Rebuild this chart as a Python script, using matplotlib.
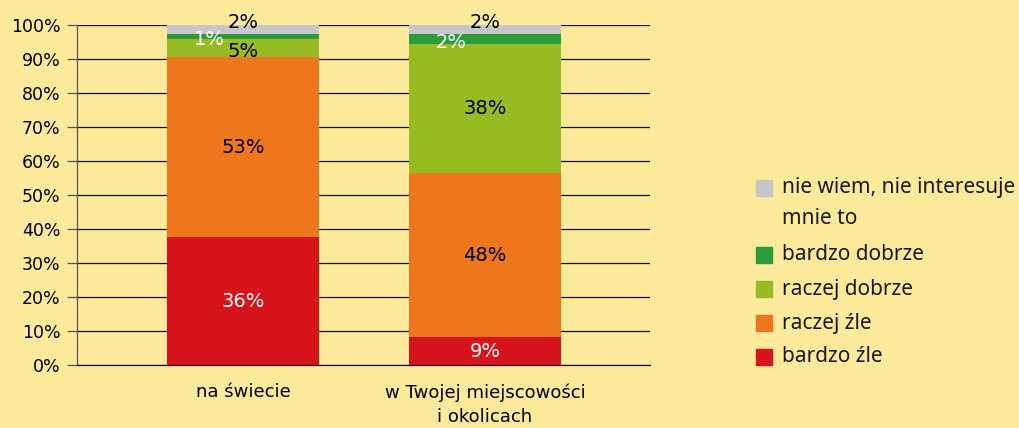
import matplotlib.pyplot as plt
import numpy as np
from matplotlib.patches import Rectangle

# dane
categories = ['na świecie', 'w Twojej miejscowości\ni okolicach']
series_names = ['bardzo źle', 'raczej źle', 'raczej dobrze', 'bardzo dobrze', 'nie wiem, nie interesuje\nmnie to']
values = {
    'bardzo źle': [37.6, 8.2],
    'raczej źle': [53.0, 48.3],
    'raczej dobrze': [5.3, 37.9],
    'bardzo dobrze': [1.5, 3.0],
    'nie wiem, nie interesuje\nmnie to': [2.6, 2.6],
}
labels = {
    'bardzo źle': ['36%', '9%'],
    'raczej źle': ['53%', '48%'],
    'raczej dobrze': ['5%', '38%'],
    'bardzo dobrze': ['1%', '2%'],
    'nie wiem, nie interesuje\nmnie to': ['2%', '2%'],
}
colors = ['#D7141C', '#EE761D', '#97BB22', '#2A9C3B', '#C6C6C6']
label_colors = ['white', 'black', 'black', 'white', 'black']

bg = '#FFE99A'
plt.rcParams['font.family'] = ['DejaVu Sans']

fig = plt.figure(figsize=(10.19, 4.28), dpi=100, facecolor=bg)
ax = fig.add_axes([77 / 1019, 1 - 365 / 428, 573 / 1019, 340 / 428])
ax.set_facecolor(bg)

x = np.arange(len(categories))
width = 0.628
bottom = np.zeros(len(categories))
for name, col, lcol in zip(series_names, colors, label_colors):
    v = np.array(values[name])
    ax.bar(x, v, width, bottom=bottom, color=col, zorder=2)
    for i in range(len(x)):
        cy = bottom[i] + v[i] / 2
        cx = x[i]
        if name == 'bardzo dobrze':
            cx = x[i] - 0.14
            cy = bottom[i] + v[i] / 2 - 1.0
        elif name.startswith('nie wiem'):
            cy = bottom[i] + v[i] / 2 + 2.0
        elif name == 'raczej dobrze' and i == 0:
            cy = bottom[i] + v[i] / 2 - 1.0
        ax.text(cx, cy, labels[name][i], ha='center', va='center',
                color=lcol, fontsize=14, zorder=3)
    bottom += v

ax.set_xlim(-0.686, 1.682)
ax.set_ylim(0, 100)
ax.set_yticks(np.arange(0, 101, 10))
ax.set_yticklabels([f'{t}%' for t in range(0, 101, 10)], fontsize=12.5)
ax.yaxis.grid(True, color='#111111', linewidth=0.9, zorder=0)
ax.set_axisbelow(True)
ax.set_xticks(x)
ax.set_xticklabels(categories, fontsize=13, linespacing=1.45)
ax.tick_params(axis='x', length=0, pad=13)
ax.tick_params(axis='y', length=7, width=0.9, color='#555555', pad=5)
for s in ['top', 'right']:
    ax.spines[s].set_visible(False)
ax.spines['bottom'].set_color('#111111')
ax.spines['bottom'].set_linewidth(0.9)
ax.spines['left'].set_color('#555555')
ax.spines['left'].set_linewidth(0.9)

# legenda
leg_items = list(zip(series_names, colors))[::-1]
leg_y = [188, 255, 289, 323, 357]
for (name, col), yy in zip(leg_items, leg_y):
    fig.patches.append(Rectangle((756 / 1019, 1 - (yy + 8) / 428), 16 / 1019, 16 / 428,
                                 transform=fig.transFigure, color=col))
    for k, line in enumerate(name.split('\n')):
        fig.text(782 / 1019, 1 - (yy + 30 * k) / 428, line, ha='left', va='center',
                 fontsize=15, family='Noto Sans', color='#1a1a1a')

fig.savefig('out.png', dpi=100, facecolor=bg)
